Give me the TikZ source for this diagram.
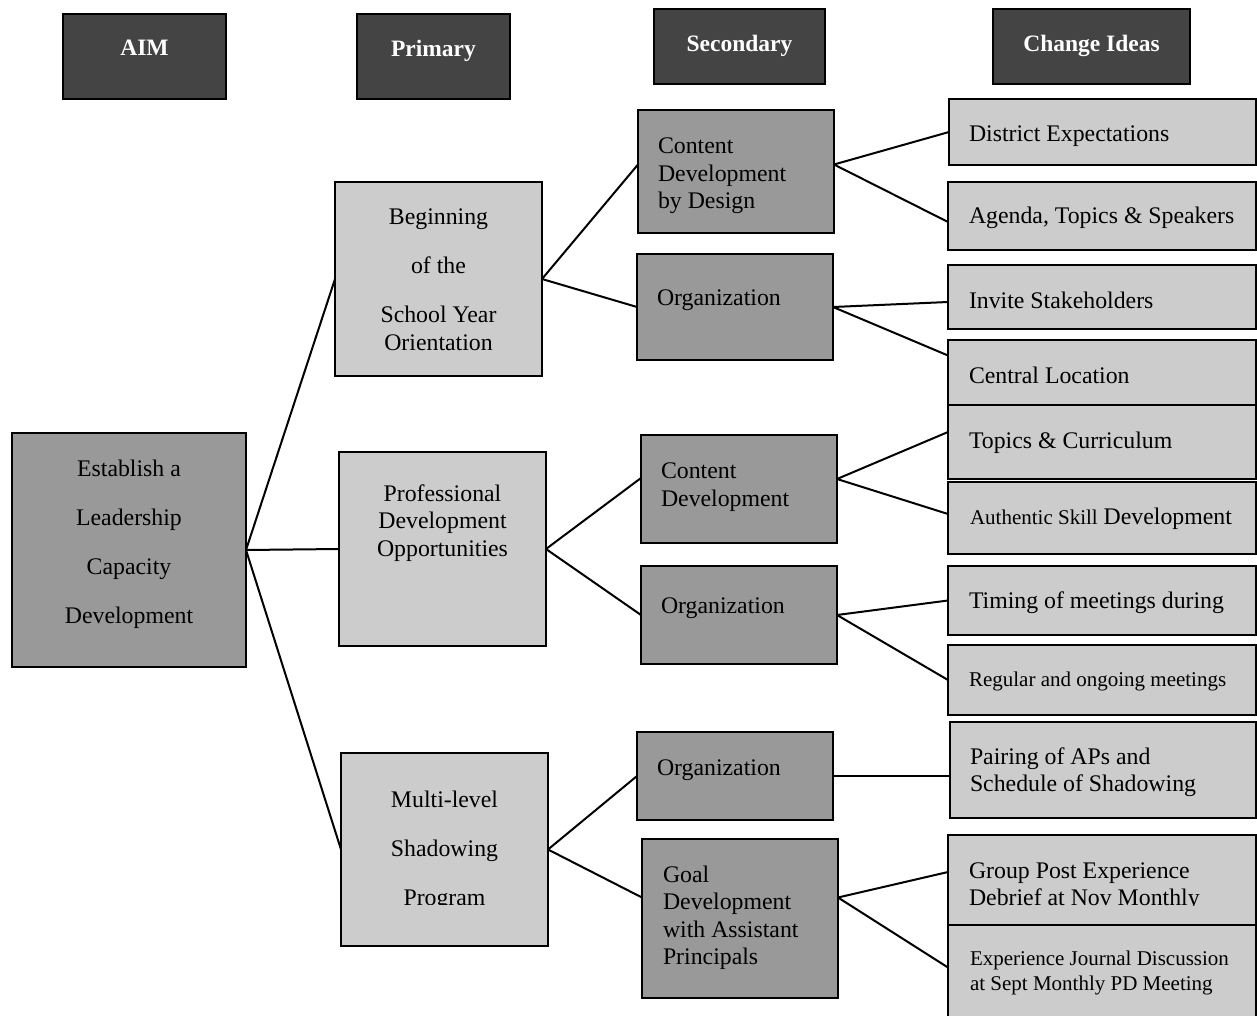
\documentclass[tikz,border=0pt]{standalone}
\usepackage{fontspec}
\setmainfont{Liberation Serif}
\definecolor{hdrgray}{HTML}{444444}
\definecolor{midgray}{HTML}{999999}
\definecolor{litegray}{HTML}{CCCCCC}
% box from its top-left and bottom-right corner (x1,y1,x2,y2)
\newcommand\diabox[6]{\node[#2, anchor=north west, minimum width=#5pt-#3pt, minimum height=#6pt-#4pt] (#1) at (#3,#4) {};}
\begin{document}
\begin{tikzpicture}[x=1pt,y=-1pt,
  every node/.style={inner sep=0pt, outer sep=0pt},
  hdr/.style={draw=black, line width=2.4pt, fill=hdrgray},
  midbox/.style={draw=black, line width=1.8pt, fill=midgray},
  litebox/.style={draw=black, line width=1.8pt, fill=litegray},
  hdrtxt/.style={text=white, font=\fontsize{23.5}{27.5}\selectfont\bfseries, anchor=base},
  % multi-line texts are placed by the baseline of their last line
  ctxt/.style={font=\fontsize{23.8}{27.5}\selectfont, align=center, anchor=base},
  ltxt/.style={font=\fontsize{23.8}{27.5}\selectfont, align=left, anchor=base west},
  stxt/.style={font=\fontsize{21}{25}\selectfont, align=left, anchor=base west},
  conn/.style={draw=black, line width=2pt}]

\useasboundingbox (0,0) rectangle (1257,1016);
\fill[white] (0,0) rectangle (1257,1016);

% column headers
\diabox{hAim}{hdr}{63}{14}{226}{99}
\diabox{hPri}{hdr}{357}{14}{510}{99}
\diabox{hSec}{hdr}{654}{9}{825}{84}
\diabox{hChg}{hdr}{993}{9}{1190}{84}
\node[hdrtxt] (hAimT) at (144.5,56) {AIM};
\node[hdrtxt] (hPriT) at (433.5,57) {Primary};
\node[hdrtxt] (hSecT) at (739.5,52) {Secondary};
\node[hdrtxt] (hChgT) at (1091.5,52) {Change Ideas};

% aim
\diabox{aim}{midbox}{12}{433}{246}{667}
\node[ctxt] (aimT) at (129,623) {Establish a\\[21.4pt]Leadership\\[21.4pt]Capacity\\[21.4pt]Development};

% primary drivers
\diabox{p1}{litebox}{335}{182}{542}{376}
\node[ctxt] (p1T) at (438.5,350) {Beginning\\[21.4pt]of the\\[21.4pt]School Year\\Orientation};
\diabox{p2}{litebox}{339}{452}{546}{646}
\node[ctxt] (p2T) at (442.5,556) {Professional\\Development\\Opportunities};
\diabox{p3}{litebox}{341}{753}{548}{946}
\begin{scope}
  \clip (341,753) rectangle (548,904.5);
  \node[ctxt] (p3T) at (444.5,905) {Multi-level\\[21.4pt]Shadowing\\[21.4pt]Program};
\end{scope}

% secondary drivers
\diabox{s1}{midbox}{638}{110}{834}{233}
\node[ltxt] (s1T) at (658,209) {Content\\Development\\by Design};
\diabox{s2}{midbox}{637}{254}{833}{360}
\node[ltxt] (s2T) at (657,305) {Organization};
\diabox{s3}{midbox}{641}{435}{837}{543}
\node[ltxt] (s3T) at (661,506) {Content\\Development};
\diabox{s4}{midbox}{641}{566}{837}{664}
\node[ltxt] (s4T) at (661,613) {Organization};
\diabox{s5}{midbox}{637}{732}{833}{820}
\node[ltxt] (s5T) at (657,775) {Organization};
\diabox{s6}{midbox}{642}{839}{838}{998}
\node[ltxt] (s6T) at (663,964.5) {Goal\\Development\\with Assistant\\Principals};

% change ideas
\diabox{c1}{litebox}{949}{99}{1256}{165}
\node[ltxt] (c1T) at (969,142) {District Expectations};
\diabox{c2}{litebox}{948}{182}{1256}{250}
\node[ltxt] (c2T) at (969,224) {Agenda, Topics \& Speakers};
\diabox{c3}{litebox}{948}{265}{1256}{329}
\node[ltxt] (c3T) at (969,308) {Invite Stakeholders};
\diabox{c4}{litebox}{948}{340}{1256}{405}
\node[ltxt] (c4T) at (969,383) {Central Location};
\diabox{c5}{litebox}{948}{405}{1256}{479}
\node[ltxt] (c5T) at (969,448) {Topics \& Curriculum};
\diabox{c6}{litebox}{948}{482}{1256}{554}
\node[ltxt] (c6T) at (970,524) {{\fontsize{21}{25}\selectfont Authentic Skill} Development};
\diabox{c7}{litebox}{948}{566}{1256}{635}
\node[ltxt] (c7T) at (969,608) {Timing of meetings during};
\diabox{c8}{litebox}{948}{645}{1256}{715}
\node[stxt] (c8T) at (969,686) {Regular and ongoing meetings};
\diabox{c9}{litebox}{950}{722}{1256}{818}
\node[ltxt] (c9T) at (970,791.5) {Pairing of APs and\\Schedule of Shadowing};
\diabox{c10}{litebox}{948}{835}{1256}{925}
\begin{scope}
  \clip (948,835) rectangle (1256,905);
  \node[ltxt] (c10T) at (969,905.5) {Group Post Experience\\Debrief at Nov Monthly};
\end{scope}
\diabox{c11}{litebox}{948}{925}{1256}{1030}
\node[stxt] (c11T) at (970,990) {Experience Journal Discussion\\at Sept Monthly PD Meeting};

% connectors: aim to primary
\draw[conn] (aim.east) -- (p1.west);
\draw[conn] (aim.east) -- (p2.west);
\draw[conn] (aim.east) -- (p3.west);
% primary to secondary
\draw[conn] (p1.east) -- ([yshift=7pt]s1.west);
\draw[conn] (p1.east) -- (s2.west);
\draw[conn] (p2.east) -- ([yshift=11pt]s3.west);
\draw[conn] (p2.east) -- (s4.west);
\draw[conn] (p3.east) -- (s5.west);
\draw[conn] (p3.east) -- ([yshift=21pt]s6.west);
% secondary to change ideas
\draw[conn] ([yshift=7pt]s1.east) -- (c1.west);
\draw[conn] ([yshift=7pt]s1.east) -- ([yshift=-6pt]c2.west);
\draw[conn] (s2.east) -- ([yshift=-5pt]c3.west);
\draw[conn] (s2.east) -- ([yshift=17pt]c4.west);
\draw[conn] ([yshift=10pt]s3.east) -- ([yshift=10pt]c5.west);
\draw[conn] ([yshift=10pt]s3.east) -- ([yshift=4pt]c6.west);
\draw[conn] (s4.east) -- (c7.west);
\draw[conn] (s4.east) -- (c8.west);
\draw[conn] (s5.east) -- (s5.east -| c9.west);
\draw[conn] ([yshift=21pt]s6.east) -- ([yshift=8pt]c10.west);
\draw[conn] ([yshift=21pt]s6.east) -- ([yshift=10pt]c11.west);
\end{tikzpicture}
\end{document}
